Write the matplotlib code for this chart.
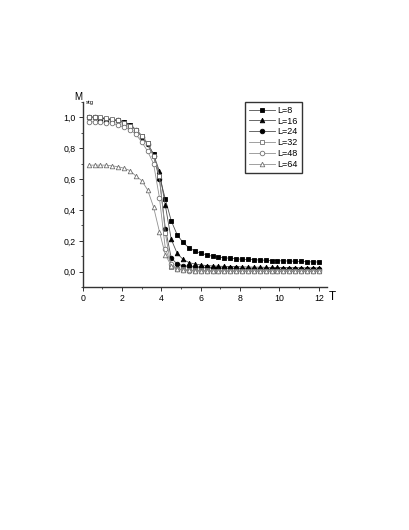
import matplotlib
matplotlib.use('Agg')
import matplotlib.pyplot as plt
from matplotlib.ticker import MultipleLocator, FuncFormatter

plt.rcParams['font.family'] = ['Liberation Sans', 'DejaVu Sans']

temps = [round(0.3 * k, 1) for k in range(1, 41)]

m_L8 = [1.0, 1.0, 0.995, 0.99, 0.985, 0.98, 0.97, 0.95, 0.92, 0.88,
        0.83, 0.76, 0.62, 0.47, 0.33, 0.24, 0.19, 0.155, 0.135, 0.12,
        0.11, 0.10, 0.095, 0.09, 0.088, 0.085, 0.08, 0.08, 0.078, 0.076,
        0.075, 0.073, 0.072, 0.07, 0.07, 0.068, 0.067, 0.065, 0.064, 0.063]
m_L16 = [1.0, 1.0, 0.995, 0.99, 0.985, 0.98, 0.97, 0.95, 0.92, 0.88,
         0.83, 0.76, 0.65, 0.43, 0.21, 0.12, 0.08, 0.06, 0.05, 0.045,
         0.04, 0.038, 0.036, 0.035, 0.034, 0.033, 0.032, 0.031, 0.03, 0.03,
         0.029, 0.028, 0.028, 0.027, 0.027, 0.026, 0.026, 0.025, 0.025, 0.025]
m_L24 = [1.0, 1.0, 0.995, 0.99, 0.985, 0.98, 0.965, 0.945, 0.92, 0.875,
         0.825, 0.75, 0.60, 0.28, 0.09, 0.05, 0.04, 0.035, 0.032, 0.03,
         0.028, 0.026, 0.025, 0.024, 0.023, 0.022, 0.021, 0.02, 0.02, 0.019,
         0.018, 0.018, 0.017, 0.017, 0.016, 0.016, 0.015, 0.015, 0.015, 0.015]
m_L32 = [1.0, 1.0, 1.0, 0.995, 0.99, 0.98, 0.96, 0.945, 0.92, 0.88,
         0.83, 0.75, 0.62, 0.25, 0.03, 0.02, 0.015, 0.012, 0.01, 0.01,
         0.009, 0.008, 0.008, 0.007, 0.007, 0.007, 0.006, 0.006, 0.006, 0.006,
         0.005, 0.005, 0.005, 0.005, 0.005, 0.005, 0.005, 0.005, 0.005, 0.005]
m_L48 = [0.97, 0.97, 0.97, 0.965, 0.96, 0.95, 0.935, 0.92, 0.89, 0.84,
         0.78, 0.70, 0.48, 0.15, 0.05, 0.02, 0.01, 0.008, 0.006, 0.005,
         0.004, 0.004, 0.003, 0.003, 0.003, 0.003, 0.002, 0.002, 0.002, 0.002,
         0.002, 0.002, 0.002, 0.002, 0.002, 0.002, 0.002, 0.002, 0.002, 0.002]
m_L64 = [0.69, 0.69, 0.69, 0.69, 0.685, 0.68, 0.67, 0.655, 0.62, 0.59,
         0.53, 0.42, 0.26, 0.11, 0.04, 0.02, 0.012, 0.01, 0.008, 0.007,
         0.006, 0.005, 0.005, 0.005, 0.004, 0.004, 0.004, 0.004, 0.004, 0.004,
         0.004, 0.004, 0.004, 0.004, 0.004, 0.004, 0.004, 0.004, 0.004, 0.004]

series = [
    ('L=8', m_L8, 's', 'black'),
    ('L=16', m_L16, '^', 'black'),
    ('L=24', m_L24, 'o', 'black'),
    ('L=32', m_L32, 's', 'white'),
    ('L=48', m_L48, 'o', 'white'),
    ('L=64', m_L64, '^', 'white'),
]

fig = plt.figure(figsize=(4.1, 5.3), dpi=100)
ax = fig.add_axes([0.2017, 0.458, 0.595, 0.350])

for label, vals, mk, fc in series:
    ec = 'black' if fc == 'black' else '#707070'
    lc = '#505050' if fc == 'black' else '#909090'
    ax.plot(temps, vals, color=lc, lw=0.6, marker=mk, markersize=3.3,
            markerfacecolor=fc, markeredgecolor=ec, markeredgewidth=0.6,
            label=label)

ax.set_xlim(0, 12.4)
ax.set_ylim(-0.1, 1.1)
ax.spines['top'].set_visible(False)
ax.spines['right'].set_visible(False)
for s in ['left', 'bottom']:
    ax.spines[s].set_linewidth(1.0)
    ax.spines[s].set_color('#333333')

ax.xaxis.set_major_locator(MultipleLocator(2))
ax.xaxis.set_minor_locator(MultipleLocator(1))
ax.yaxis.set_major_locator(MultipleLocator(0.2))
ax.yaxis.set_minor_locator(MultipleLocator(0.1))
ax.yaxis.set_major_formatter(FuncFormatter(lambda v, p: ('%.1f' % v).replace('.', ',')))
ax.set_yticks([0.0, 0.2, 0.4, 0.6, 0.8, 1.0])
ax.set_xticks([0, 2, 4, 6, 8, 10, 12])
ax.tick_params(which='major', length=3, width=0.7, labelsize=6.3, pad=2, color='#333333')
ax.tick_params(which='minor', length=1.5, width=0.6, color='#333333')

fig.text(0.181, 0.808, 'M', fontsize=7, ha='left', va='bottom')
fig.text(0.209, 0.802, 'stg', fontsize=4.2, ha='left', va='bottom')
fig.text(0.803, 0.428, 'T', fontsize=8.5, ha='left', va='bottom')

leg = ax.legend(loc='upper left', bbox_to_anchor=(0.667, 1.0), fontsize=6.5,
                frameon=True, fancybox=False, edgecolor='black',
                handlelength=2.8, handletextpad=0.3, borderpad=0.45,
                labelspacing=0.2, borderaxespad=0)
leg.get_frame().set_linewidth(1.0)

fig.savefig('out.png', dpi=100)
